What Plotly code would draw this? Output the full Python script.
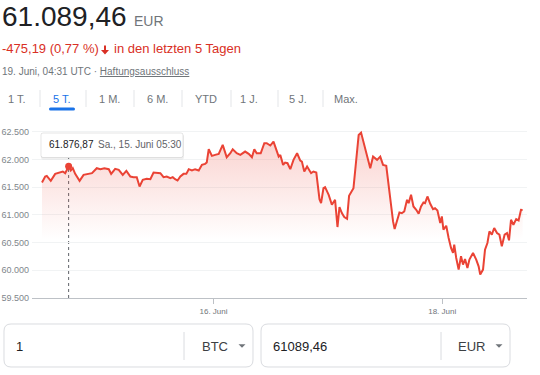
import plotly.graph_objects as go

# ---------------- data ----------------
hours = [
    0.0, 0.8, 1.2, 2.2, 3.3, 4.6, 5.2, 5.8, 6.7, 7.2,
    7.7, 8.3, 9.4, 10.4, 11.4, 12.5, 13.7, 14.6, 15.6, 16.7,
    17.3, 18.3, 19.2, 20.2, 21.1, 22.1, 22.9, 23.7, 24.4, 25.2,
    26.2, 27.1, 27.9, 28.7, 29.6, 30.4, 31.2, 32.1, 32.7, 33.3,
    33.9, 34.6, 35.4, 36.1, 36.7, 37.5, 38.3, 39.2, 40.0, 40.8,
    41.2, 41.7, 42.5, 43.3, 44.2, 45.2, 46.2, 47.1, 47.7, 48.7,
    49.6, 50.8, 51.7, 52.5, 53.1, 53.7, 54.7, 55.6, 56.2, 57.1,
    57.9, 59.2, 59.6, 60.3, 60.8, 61.4, 62.1, 62.9, 63.8, 64.6,
    65.0, 65.6, 66.3, 67.3, 67.9, 68.6, 69.4, 69.8, 70.4, 70.8,
    71.7, 72.5, 73.3, 73.9, 74.4, 75.0, 75.6, 76.3, 76.8, 77.9,
    78.6, 79.2, 79.8, 80.4, 81.3, 82.1, 82.8, 83.8, 84.6, 85.3,
    86.1, 87.1, 87.8, 88.2, 88.8, 89.4, 90.0, 90.6, 91.3, 91.7,
    92.3, 92.9, 93.6, 94.2, 94.8, 95.4, 95.8, 96.4, 97.1, 97.8,
    98.3, 98.9, 99.6, 100.0, 100.4, 101.1, 101.7, 102.3, 102.8, 103.1,
    103.6, 104.2, 104.8, 105.3, 105.8, 106.4, 106.9, 107.8, 108.6, 109.2,
    109.6, 110.3, 110.8, 111.4, 111.9, 112.5, 113.1, 113.8, 114.4, 115.0,
    115.7, 116.3, 116.8, 117.3, 117.9, 118.6, 119.2, 119.8, 120.2,
]
prices = [
    61583, 61691, 61703, 61613, 61739, 61769, 61781, 61751, 61877, 61799,
    61841, 61739, 61613, 61721, 61739, 61751, 61841, 61823, 61841, 61823,
    61739, 61829, 61811, 61721, 61793, 61691, 61679, 61679, 61511, 61631,
    61649, 61643, 61763, 61763, 61751, 61679, 61691, 61661, 61679, 61643,
    61619, 61691, 61739, 61739, 61823, 61799, 61823, 61799, 61901, 61919,
    61943, 62183, 62063, 62081, 62099, 62261, 62039, 62111, 62183, 62111,
    62081, 62141, 62099, 62039, 62183, 62111, 62111, 62291, 62291, 62250,
    62321, 62051, 62081, 61901, 61943, 61931, 61823, 61991, 62111, 61979,
    61961, 61781, 61871, 61751, 61781, 61763, 61283, 61211, 61481, 61499,
    61361, 61181, 61271, 60780, 61139, 61031, 60960, 60929, 61343, 61481,
    62051, 62441, 62483, 62321, 62099, 61841, 62051, 61991, 62051, 61901,
    61883, 61271, 60881, 60744, 60881, 61043, 61031, 61061, 61271, 61211,
    61361, 61151, 61091, 61019, 61151, 61223, 61211, 61331, 61199, 61103,
    61121, 61079, 60852, 60971, 60732, 60804, 60582, 60402, 60312, 60462,
    60222, 60012, 60252, 60102, 60204, 60042, 60192, 60312, 60192, 60072,
    59922, 60012, 60372, 60492, 60702, 60642, 60762, 60672, 60642, 60432,
    60642, 60672, 60540, 60911, 60821, 60924, 60900, 61091, 61089,
]
x_tick_hours = [42.9, 100.1]
x_tick_labels = ["16. Juni", "18. Juni"]
y_ticks = [59500, 60000, 60500, 61000, 61500, 62000, 62500]
y_tick_labels = ["59.500", "60.000", "60.500", "61.000", "61.500", "62.000", "62.500"]

hover_hour = 6.66
hover_price = 61876.87
hover_value_text = "61.876,87"
hover_time_text = "Sa., 15. Juni 05:30"

price_text = "61.089,46"
currency_text = "EUR"
change_text = "-475,19 (0,77 %)"
change_suffix = "in den letzten 5 Tagen"
date_text = "19. Juni, 04:31 UTC · "
disclaimer_text = "Haftungsausschluss"
tabs = ["1 T.", "5 T.", "1 M.", "6 M.", "YTD", "1 J.", "5 J.", "Max."]
active_tab = "5 T."
amount_from = "1"
unit_from = "BTC"
amount_to = "61089,46"
unit_to = "EUR"

# ---------------- layout helpers (pixel -> paper) ----------------
W, H = 540, 375
ML, MR, MT, MB = 32, 13, 130, 77
PW, PH = W - ML - MR, H - MT - MB


def px(x):
    return (x - ML) / PW


def py(y):
    return (H - MB - y) / PH


FONT = "Arial, Liberation Sans, sans-serif"
RED_LINE = "#ea4335"
RED_TEXT = "#d93025"
GRAY = "#70757a"
DARK = "#202124"
BLUE = "#1a73e8"
BORDER = "#dadce0"

fig = go.Figure()

fig.add_trace(go.Scatter(
    x=hours, y=prices, mode="lines",
    line=dict(color=RED_LINE, width=2),
    fill="tozeroy",
    fillgradient=dict(
        type="vertical",
        colorscale=[[0, "rgba(234,67,53,0)"], [1, "rgba(234,67,53,0.24)"]],
        start=60550, stop=62400,
    ),
    hoverinfo="skip", showlegend=False,
))

fig.add_trace(go.Scatter(
    x=[hover_hour], y=[hover_price], mode="markers",
    marker=dict(color=RED_LINE, size=7),
    hoverinfo="skip", showlegend=False, cliponaxis=False,
))

shapes = []
annotations = []


def text(x, y, s, size, color, anchor="left", yanchor="middle"):
    annotations.append(dict(
        x=px(x), y=py(y), xref="paper", yref="paper", text=s, showarrow=False,
        xanchor=anchor, yanchor=yanchor, align="left",
        font=dict(family=FONT, size=size, color=color), borderpad=0,
    ))


def P(x, y):
    return f"{px(x):.5f},{py(y):.5f}"


def rrect_path(x0, y0, x1, y1, r):
    return (f"M {P(x0 + r, y0)} L {P(x1 - r, y0)} Q {P(x1, y0)} {P(x1, y0 + r)} "
            f"L {P(x1, y1 - r)} Q {P(x1, y1)} {P(x1 - r, y1)} L {P(x0 + r, y1)} "
            f"Q {P(x0, y1)} {P(x0, y1 - r)} L {P(x0, y0 + r)} Q {P(x0, y0)} {P(x0 + r, y0)} Z")


def tri_path(cx, cy, w, h):
    return f"M {P(cx - w / 2, cy - h / 2)} L {P(cx + w / 2, cy - h / 2)} L {P(cx, cy + h / 2)} Z"


def vline(x, y0, y1, color, width=1, dash="solid"):
    shapes.append(dict(type="line", xref="paper", yref="paper",
                       x0=px(x), x1=px(x), y0=py(y0), y1=py(y1),
                       line=dict(color=color, width=width, dash=dash)))


# header
text(1, 17, price_text, 28, DARK)
text(133, 21, currency_text, 14, GRAY)
text(1, 49, change_text, 13, RED_TEXT)
# bold down arrow
shapes.append(dict(type="path", xref="paper", yref="paper",
                   path=(f"M {P(104, 45.5)} L {P(106, 45.5)} L {P(106, 50)} L {P(109, 50)} "
                         f"L {P(105, 54.5)} L {P(101, 50)} L {P(104, 50)} Z"),
                   fillcolor=RED_TEXT, line=dict(width=0)))
text(113, 49, change_suffix, 13, RED_TEXT)
text(1, 72, date_text + "<u>" + disclaimer_text + "</u>", 10, GRAY)

# tabs
tab_centers = [17, 62, 109, 157, 206, 249, 298, 346]
for lbl, cx in zip(tabs, tab_centers):
    text(cx, 99, lbl, 11, BLUE if lbl == active_tab else GRAY, anchor="center")
for sx in [40, 86, 134, 182, 231, 278, 323]:
    vline(sx, 90, 107, "#e3e5e8")
shapes.append(dict(type="path", xref="paper", yref="paper",
                   path=rrect_path(49, 107.5, 75, 110.5, 1.5),
                   fillcolor=BLUE, line=dict(width=0)))

# tooltip
shapes.append(dict(type="path", xref="paper", yref="paper",
                   path=rrect_path(41, 134.5, 184, 159.5, 2),
                   fillcolor="rgba(0,0,0,0.06)", line=dict(width=0)))
shapes.append(dict(type="path", xref="paper", yref="paper",
                   path=rrect_path(41, 133, 183, 157.5, 2),
                   fillcolor="white", line=dict(color="rgba(0,0,0,0.10)", width=1)))
text(47.5, 144, hover_value_text, 10, DARK)
text(97, 144, hover_time_text, 10, "#5f6368")
shapes.append(dict(type="line", xref="x", yref="paper",
                   x0=hover_hour, x1=hover_hour, y0=0, y1=py(158),
                   line=dict(color="#5f6368", width=1, dash="dot"), layer="below"))

# converter boxes
for (x0, x1, sep, tri, amt, unit, ux) in [
    (4, 253, 184, 242, amount_from, unit_from, 229),
    (261, 510, 441, 499, amount_to, unit_to, 486),
]:
    shapes.append(dict(type="path", xref="paper", yref="paper",
                       path=rrect_path(x0, 324, x1, 367, 7),
                       fillcolor="white", line=dict(color=BORDER, width=1)))
    vline(sep, 332, 360, BORDER)
    shapes.append(dict(type="path", xref="paper", yref="paper",
                       path=tri_path(tri, 346, 7, 3.5),
                       fillcolor=GRAY, line=dict(width=0)))
    text(x0 + 11, 346, amt, 13, DARK)
    text(ux, 346, unit, 13, "#3c4043", anchor="right")

fig.update_layout(
    width=W, height=H,
    margin=dict(l=ML, r=MR, t=MT, b=MB, autoexpand=False),
    paper_bgcolor="white", plot_bgcolor="white",
    font=dict(family=FONT),
    shapes=shapes, annotations=annotations,
    showlegend=False,
    xaxis=dict(
        range=[-2.5, 121.3], automargin=False,
        tickvals=x_tick_hours, ticktext=x_tick_labels,
        ticks="outside", ticklen=5, tickcolor="#bdc1c6",
        showline=True, linecolor="#bdc1c6", linewidth=1,
        showgrid=False, zeroline=False,
        tickfont=dict(family=FONT, size=8, color=GRAY),
    ),
    yaxis=dict(
        range=[59500, 62530], automargin=False,
        tickvals=y_ticks, ticktext=y_tick_labels,
        showgrid=True, gridcolor="#f1f3f4", gridwidth=1,
        zeroline=False, showline=False, ticks="",
        ticklabelstandoff=2,
        tickfont=dict(family=FONT, size=9, color="#80868b"),
    ),
)

fig.write_html(
    "out.html",
    config={"displayModeBar": False},
    post_script="document.body.style.margin='0';document.body.style.overflow='hidden';",
)
